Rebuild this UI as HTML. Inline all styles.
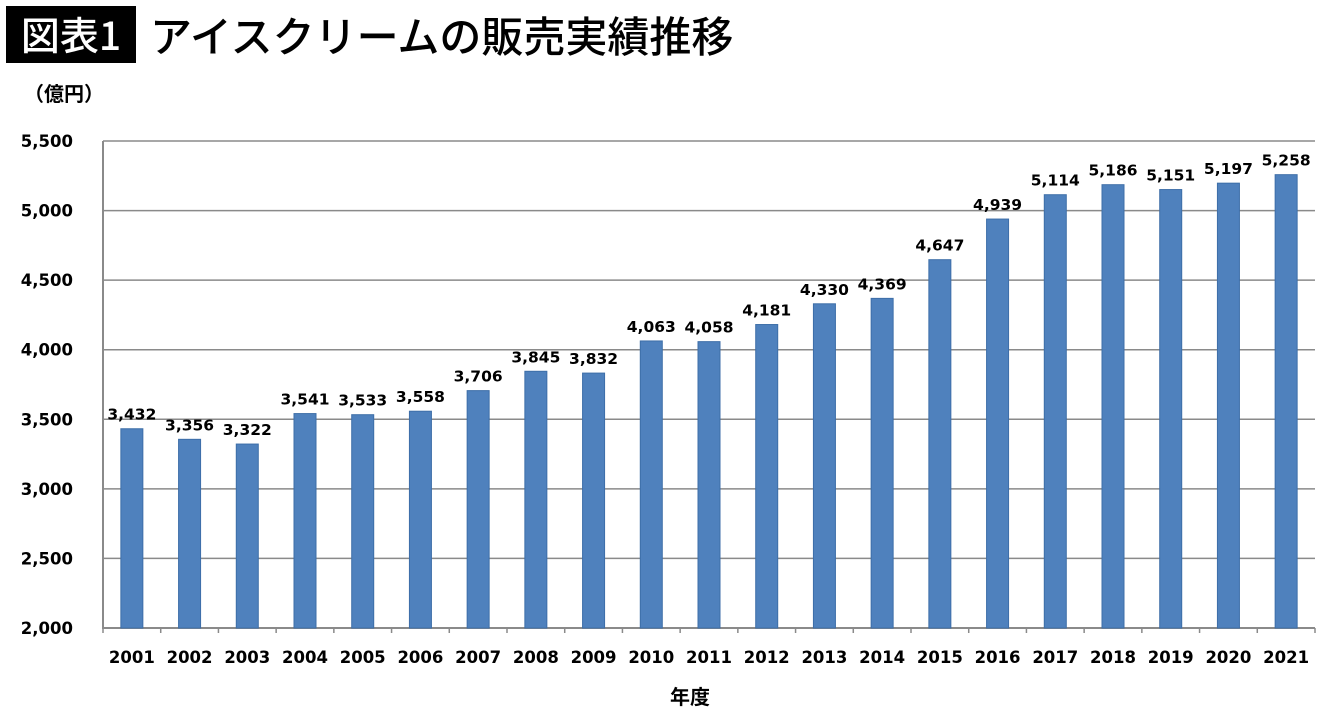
<!DOCTYPE html>
<html><head><meta charset="utf-8"><style>
body{margin:0;background:#fff;width:1340px;height:716px;overflow:hidden;font-family:"Liberation Sans","Noto Sans CJK JP",sans-serif}
#tag{position:absolute;left:6px;top:6px;width:130px;height:57px;background:#000;color:#fff;font-size:39px;font-weight:500;line-height:57px;text-align:center;font-family:"Noto Sans CJK JP",sans-serif}
#title{position:absolute;left:150px;top:6px;height:57px;line-height:57px;font-size:42px;font-weight:500;color:#000;font-family:"Noto Sans CJK JP",sans-serif}
svg{position:absolute;left:0;top:0}
</style></head><body>
<div id="tag">図表1</div>
<div id="title">アイスクリームの販売実績推移</div>
<svg id="chart" width="1340" height="716"></svg>
<script>
const years=["2001","2002","2003","2004","2005","2006","2007","2008","2009","2010","2011","2012","2013","2014","2015","2016","2017","2018","2019","2020","2021"];
const sales=[3432,3356,3322,3541,3533,3558,3706,3845,3832,4063,4058,4181,4330,4369,4647,4939,5114,5186,5151,5197,5258];
const yTicks=[2000,2500,3000,3500,4000,4500,5000,5500];
const L=103,R=1315,T=141,B=628,ymin=2000,ymax=5500;
const ns="http://www.w3.org/2000/svg";
const svg=document.getElementById('chart');
const step=(R-L)/years.length;
const y=v=>B-(v-ymin)/(ymax-ymin)*(B-T);
const x=i=>L+step*(i+0.5);
function mk(t,a,p){const e=document.createElementNS(ns,t);for(const k in a)e.setAttribute(k,a[k]);(p||svg).appendChild(e);return e;}
const font='"DejaVu Sans","Noto Sans CJK JP",sans-serif';
yTicks.forEach(v=>{
  if(v>ymin){const g=mk('line',{x1:L,x2:R,y1:y(v),y2:y(v),stroke:'#8a8a8a','stroke-width':1.5});
  
  }
  const t=mk('text',{x:73,y:y(v)+6,'text-anchor':'end','font-size':16.5,'font-weight':'bold','font-family':font});
  t.textContent=v.toLocaleString('en-US');
  
  
});
const ax=mk('path',{d:`M${L},${T}V${B}H${R}`,fill:'none',stroke:'#8a8a8a','stroke-width':2});


for(let i=0;i<=years.length;i++){mk('line',{x1:L+step*i,x2:L+step*i,y1:B,y2:B+5,stroke:'#8a8a8a','stroke-width':1.5});}
years.forEach((yr,i)=>{
  const b=mk('rect',{x:x(i)-11,y:y(sales[i]),width:22,height:B-y(sales[i]),fill:'#4f81bd',stroke:'#3d6ea8','stroke-width':1});
  
  
  const l=mk('text',{x:x(i),y:y(sales[i])-9,'text-anchor':'middle','font-size':15.5,'font-weight':'bold','font-family':font});
  l.textContent=sales[i].toLocaleString('en-US');
  
  
  const t=mk('text',{x:x(i),y:663,'text-anchor':'middle','font-size':16.5,'font-weight':'bold','font-family':font});
  t.textContent=yr;
  
  
});
const xt=mk('text',{x:690,y:704,'text-anchor':'middle','font-size':20,'font-weight':'bold','font-family':font});
xt.textContent='年度';


const yt=mk('text',{x:24,y:101,'font-size':20,'font-weight':'bold','font-family':font});
yt.textContent='（億円）';


</script>
</body></html>
